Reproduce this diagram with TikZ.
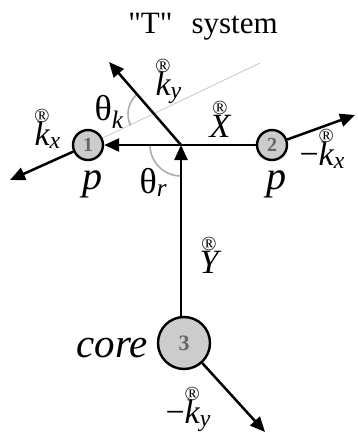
\documentclass[tikz,border=0pt]{standalone}
\usepackage{fontspec}
\setmainfont{Liberation Serif}
\newfontfamily\titlefont{Liberation Serif}
\usetikzlibrary{
	arrows.meta,
	calc,
	positioning
}
\definecolor{ballgray}{gray}{0.8}
\definecolor{digitgray}{gray}{0.4}
\definecolor{arcgray}{gray}{0.68}
\definecolor{linegray}{gray}{0.78}
% letter with the mark above it, then its subscript
\newcommand{\regmark}{\fontsize{20}{20}\selectfont\textregistered}
\newcommand{\rv}[2]{\setbox0\hbox{\itshape #1}\rlap{\hbox to\wd0{\hss\raisebox{0.66em}{\regmark}\hss}}\box0\textsubscript{\itshape #2}}

\begin{document}
\begin{tikzpicture}[x=1pt, y=-1pt,
		ball/.style={circle, draw, line width=2.4pt, fill=ballgray, text=digitgray,
			font=\bfseries\fontsize{20}{20}\selectfont, inner sep=0pt, minimum size=30pt},
		vec/.style={line width=2.5pt, -{Triangle[length=15pt,width=13pt]}},
		lbl/.style={anchor=base west, font=\fontsize{34}{34}\selectfont},
		anglearc/.style={arcgray, line width=1.6pt}]
			\useasboundingbox (0,0) rectangle (357,440);
			\node[font=\titlefont\fontsize{31}{31}\selectfont, anchor=base] (title) at (203,33) {"T"\hspace{19pt}system};
			% particles
			\node[ball] (n1) at (88,145) {1};
			\node[ball] (n2) at (272,145) {2};
			\node[ball, minimum size=52pt, font=\bfseries\fontsize{22}{22}\selectfont] (n3) at (184,343) {3};
			\coordinate (J) at (181,145);
			\coordinate (K) at (154,114);
			\coordinate (kyend) at (109,62);
			\coordinate (kxend) at (10,180);
			\coordinate (kxend2) at (355,115);
			\coordinate (kyend2) at (265,432);
			\coordinate (grayend) at (260,63);
			% angles
			\draw[linegray, line width=0.8pt] (n1) -- (grayend);
			\draw[anglearc] (K) ++(154:26) arc[start angle=154, end angle=229, radius=26];
			\draw[anglearc] (J) ++(90:31) arc[start angle=90, end angle=180, radius=31];
			% momenta
			\draw[vec] (n2) -- (n1);
			\draw[vec] (n3.north -| J) -- (J);
			\draw[vec] (J) -- (kyend);
			\draw[vec] (n1) -- (kxend);
			\draw[vec] (n2) -- (kxend2);
			\draw[vec] (n3) -- (kyend2);
			% labels
			\node[lbl] (kx) at (31,145) {\rv{k}{x}};
			\node[lbl] (ky) at (152,95) {\rv{k}{y}};
			\node[lbl] (X) at (206,137) {\rv{X}{}};
			\node[lbl] (mkx) at (296,165) {−\rv{k}{x}};
			\node[lbl] (Y) at (196,273) {\rv{Y}{}};
			\node[lbl] (mky) at (162,423) {−\rv{k}{y}};
			\node[lbl, font=\fontsize{40}{40}\selectfont\itshape] (p1) at (79,189) {p};
			\node[lbl, font=\fontsize{40}{40}\selectfont\itshape] (p2) at (263,189) {p};
			\node[lbl, font=\fontsize{41}{41}\selectfont\itshape] (core) at (73,357) {core};
			\node[lbl, font=\fontsize{36}{36}\selectfont] (thk) at (91,120) {θ\textsubscript{\itshape k}};
			\node[lbl, font=\fontsize{36}{36}\selectfont] (thr) at (136,193) {θ\textsubscript{\itshape r}};
		\end{tikzpicture}
\end{document}
